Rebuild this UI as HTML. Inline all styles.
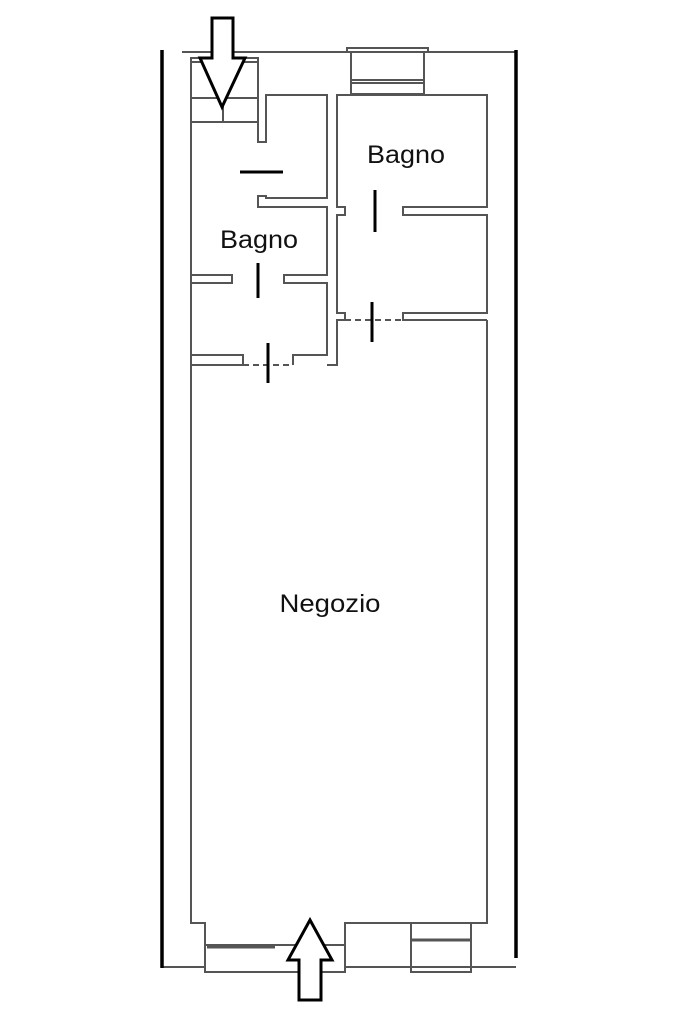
<!DOCTYPE html>
<html><head><meta charset="utf-8"><style>
html,body{margin:0;padding:0;background:#fff;}
svg{display:block}
text{font-family:"Liberation Sans",sans-serif;fill:#111}
</style></head><body>
<svg width="683" height="1023" viewBox="0 0 683 1023" xmlns="http://www.w3.org/2000/svg">
<g fill="none" stroke="#555" stroke-width="2">
<line x1="182" y1="52" x2="516" y2="52"/>
<polyline points="347,52 347,48 428,48 428,52"/>
<rect x="351" y="52" width="73" height="42"/>
<line x1="351" y1="80" x2="424" y2="80"/><line x1="351" y1="83" x2="424" y2="83"/>
<rect x="191" y="58" width="67" height="64"/>
<line x1="191" y1="62" x2="258" y2="62"/>
<line x1="191" y1="98" x2="258" y2="98"/>
<line x1="223" y1="98" x2="223" y2="122"/>
<line x1="191" y1="122" x2="191" y2="365"/>
<polyline points="258,122 258,142 266,142 266,95 327,95 327,198 266,198 266,196 258,196 258,207 327,207 327,275 284,275 284,283 327,283 327,355 293,355 293,365"/>
<polyline points="191,275 232,275 232,283 191,283"/>
<polyline points="191,355 243,355 243,365 191,365"/>
<line x1="243" y1="365" x2="293" y2="365" stroke-dasharray="6 4"/>
<polyline points="327,365 337,365 337,320 345,320 345,313 337,313 337,215 345,215 345,207 337,207 337,95 487,95 487,207 403,207 403,215 487,215 487,313 403,313 403,320 487,320"/>
<line x1="345" y1="320" x2="403" y2="320" stroke-dasharray="6 4"/>
<polyline points="191,365 191,923 205,923 205,945 345,945 345,923 487,923 487,320"/>
<polyline points="161,967 205,967 205,972 345,972 345,967 411,967 411,972 471,972 471,967 516,967"/>
<line x1="205" y1="945" x2="205" y2="967"/><line x1="345" y1="945" x2="345" y2="967"/>
<rect x="411" y="923" width="60" height="44"/>
<line x1="411" y1="940" x2="471" y2="940" stroke-width="3"/>
<line x1="207" y1="947" x2="275" y2="947" stroke-width="3"/>
</g>
<g stroke="#000" stroke-width="3.5">
<line x1="162" y1="50" x2="162" y2="968"/>
<line x1="516" y1="50" x2="516" y2="958"/>
</g>
<g stroke="#000" stroke-width="3">
<line x1="240" y1="172" x2="283" y2="172"/>
<line x1="375" y1="190" x2="375" y2="232"/>
<line x1="258" y1="263" x2="258" y2="298"/>
<line x1="268" y1="343" x2="268" y2="383"/>
<line x1="372" y1="302" x2="372" y2="342"/>
</g>
<polygon points="212,18 233,18 233,58 245,58 222,107 200,58 212,58" fill="#fff" stroke="#000" stroke-width="3"/>
<polygon points="310,920 332,960 321,960 321,1000 299,1000 299,960 288,960" fill="#fff" stroke="#000" stroke-width="3"/>
<text x="406" y="163" font-size="25" text-anchor="middle" textLength="78" lengthAdjust="spacingAndGlyphs">Bagno</text>
<text x="259" y="248" font-size="25" text-anchor="middle" textLength="78" lengthAdjust="spacingAndGlyphs">Bagno</text>
<text x="330" y="612" font-size="25" text-anchor="middle" textLength="101" lengthAdjust="spacingAndGlyphs">Negozio</text>
</svg>
</body></html>
